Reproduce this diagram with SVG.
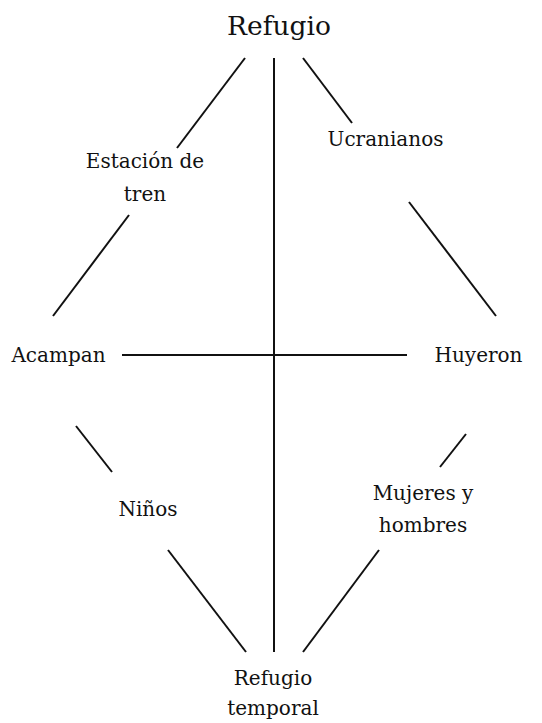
<svg xmlns="http://www.w3.org/2000/svg" width="542" height="723" viewBox="0 0 542 723">
<style>
text{font-family:'DejaVu Serif',serif;font-size:20px;fill:#111;text-anchor:middle}
.title{font-size:26.5px}
line{stroke:#111;stroke-width:2;stroke-linecap:butt}
</style>
<rect width="542" height="723" fill="#fff"/>
<g id="connectors">
<line x1="274" y1="58" x2="274" y2="652"/>
<line x1="122" y1="355" x2="407" y2="355"/>
<line x1="245" y1="58" x2="177" y2="148"/>
<line x1="129" y1="215" x2="53" y2="316"/>
<line x1="303" y1="58" x2="352" y2="123"/>
<line x1="409" y1="202" x2="496" y2="316"/>
<line x1="76" y1="426" x2="112" y2="472"/>
<line x1="466" y1="434" x2="440" y2="467"/>
<line x1="168" y1="550" x2="246" y2="652"/>
<line x1="379" y1="550" x2="303" y2="652"/>
</g>
<g id="refugio"><text class="title" x="279" y="35">Refugio</text></g>
<g id="estacion"><text x="145" y="168">Estación de</text><text x="145" y="201">tren</text></g>
<g id="ucranianos"><text x="385.5" y="146">Ucranianos</text></g>
<g id="acampan"><text x="58.5" y="362">Acampan</text></g>
<g id="huyeron"><text x="478.5" y="362">Huyeron</text></g>
<g id="ninos"><text x="148" y="516">Niños</text></g>
<g id="mujeres"><text x="423" y="500">Mujeres y</text><text x="423" y="532">hombres</text></g>
<g id="refugio-temporal"><text x="273" y="685">Refugio</text><text x="273" y="715">temporal</text></g>
</svg>
